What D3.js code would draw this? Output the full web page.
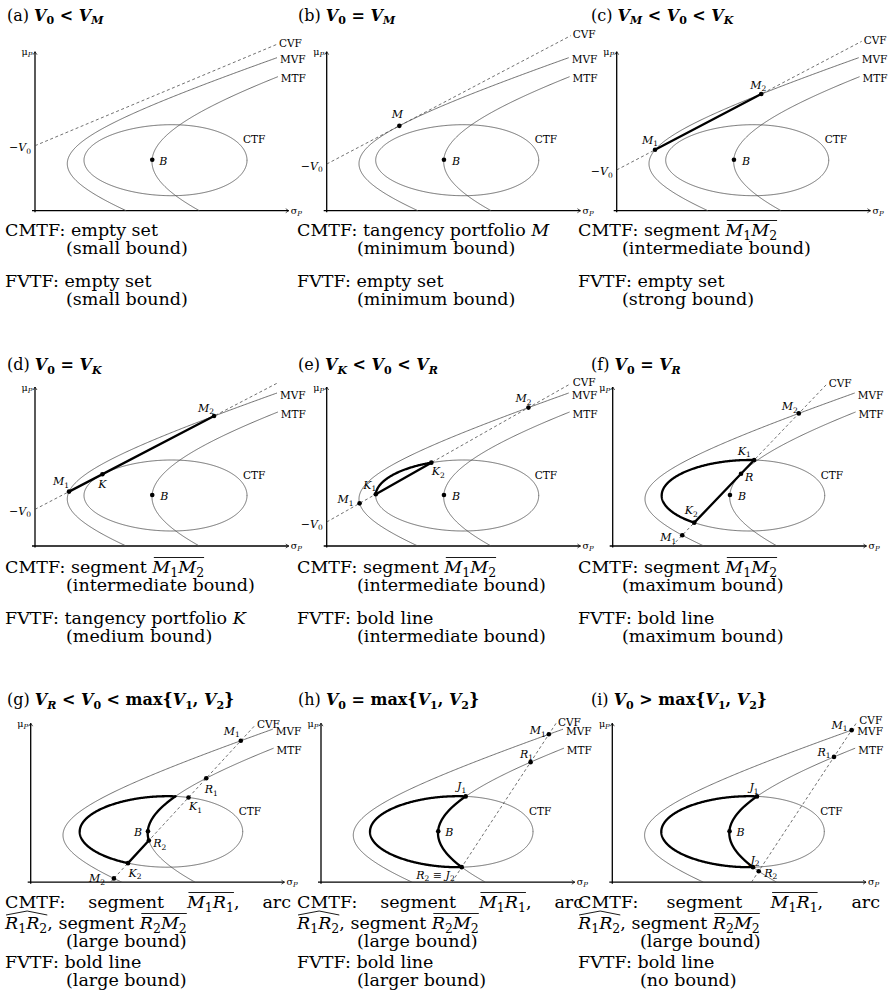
<!DOCTYPE html>
<html>
<head>
<meta charset="utf-8">
<script src="https://cdn.jsdelivr.net/npm/d3@7/dist/d3.min.js"></script>
<style>
  body { margin: 0; background: #fff; }
  text { font-family: "DejaVu Serif", serif; white-space: pre; }
</style>
</head>
<body>
<svg id="fig" width="891" height="1005"></svg>
<script>
// ---- curve geometry, same units on both axes ----
// frontiers: sigma = c + sqrt(a^2 + k (mu - m)^2), drawn from mu = 0 up to "top"
const mvfCurve = { c: -4.576, a: 5.868, k: 9.39, m: 1.88, top: 6.12 };
const mtfCurve = { c: -6.12, a: 10.8, k: 11.6, m: 1.96, top: 5.36 };
// constraint set boundary (egg shaped, pointier on the left)
const ctfCurve = { cx: 5.22, cy: 2.02, rx: 3.26, ry: 1.42, skew: 0.24 };
const pointB = { s: 4.69, m: 2.04 };
const ctfLabelAt = { s: 8.32, m: 2.84 };
const axisEnd = { s: 10.15, m: 6.36 };

// ---- per panel values ----
const panelTags = ["(a)", "(b)", "(c)", "(d)", "(e)", "(f)", "(g)", "(h)", "(i)"];
const panelTitles = [
  "V_0 < V_M", "V_0 = V_M", "V_M < V_0 < V_K",
  "V_0 = V_K", "V_K < V_0 < V_R", "V_0 = V_R",
  "V_R < V_0 < max{V_1, V_2}", "V_0 = max{V_1, V_2}", "V_0 > max{V_1, V_2}"
];
const cvfIntercept = [2.6, 1.96, 1.63, 1.46, 0.96, -2.43, -3.46, -7.87, -8.45];
const cvfSlope = [0.419, 0.526, 0.525, 0.521, 0.567, 1.045, 1.085, 1.525, 1.518];
const cvfEnd = [9.68, 9.76, 9.8, 9.68, 9.76, 8.56, 8.97, 9.4, 9.8];
// how the CVF line meets the frontiers in the limiting cases
const cvfFit = [null, "tanMVF", null, "tanCTF", null, "tanMTF", null, "thruJ2", null];
const cvfLabelShown = [true, true, true, false, true, true, true, true, true];

// marked portfolios: [name, where, which crossing, label]
const panelPoints = [
  [["B", "B"]],
  [["M", "tan"], ["B", "B"]],
  [["M_1", "mvf", 0], ["M_2", "mvf", 1], ["B", "B"]],
  [["M_1", "mvf", 0], ["M_2", "mvf", 1], ["K", "tan"], ["B", "B"]],
  [["M_1", "mvf", 0], ["M_2", "mvf", 1], ["K_1", "ctf", 0], ["K_2", "ctf", 1], ["B", "B"]],
  [["M_1", "mvf", 0], ["M_2", "mvf", 1], ["K_2", "ctf", 0], ["K_1", "ctf", 1], ["R", "tan"], ["B", "B"]],
  [["M_2", "mvf", 0], ["M_1", "mvf", 1], ["K_2", "ctf", 0], ["K_1", "ctf", 1], ["R_2", "mtf", 0], ["R_1", "mtf", 1], ["B", "B"]],
  [["M_1", "mvf", -1], ["R_1", "mtf", -1], ["J_1", "J1"], ["J_2", "J2", null, "R_2 \u2261 J_2"], ["B", "B"]],
  [["M_1", "mvf", -1], ["R_1", "mtf", -1], ["R_2", "mtf", 0], ["J_1", "J1"], ["J_2", "J2"], ["B", "B"]]
];
// bold pieces: seg = straight, arc = CTF boundary (counter-clockwise), mtf = along MTF
const boldPieces = [
  [], [], [["seg", "M_1", "M_2"]],
  [["seg", "M_1", "M_2"]],
  [["seg", "K_1", "K_2"], ["arc", "K_2", "K_1"]],
  [["seg", "K_1", "K_2"], ["arc", "K_1", "K_2"]],
  [["arc", "J_1", "K_2"], ["seg", "K_2", "R_2"], ["mtf", "R_2", "J_1"]],
  [["arc", "J_1", "J_2"], ["mtf", "J_2", "J_1"]],
  [["arc", "J_1", "J_2"], ["mtf", "J_2", "J_1"]]
];
// $..$ math, [..] math with bar, {..} math with hat
const captions = [
  ["CMTF: empty set", "(small bound)", "FVTF: empty set", "(small bound)"],
  ["CMTF: tangency portfolio $M$", "(minimum bound)", "FVTF: empty set", "(minimum bound)"],
  ["CMTF: segment [M_1M_2]", "(intermediate bound)", "FVTF: empty set", "(strong bound)"],
  ["CMTF: segment [M_1M_2]", "(intermediate bound)", "FVTF: tangency portfolio $K$", "(medium bound)"],
  ["CMTF: segment [M_1M_2]", "(intermediate bound)", "FVTF: bold line", "(intermediate bound)"],
  ["CMTF: segment [M_1M_2]", "(maximum bound)", "FVTF: bold line", "(maximum bound)"],
  ["CMTF: segment [M_1R_1], arc", "{R_1R_2}, segment [R_2M_2]", "(large bound)", "FVTF: bold line", "(large bound)"],
  ["CMTF: segment [M_1R_1], arc", "{R_1R_2}, segment [R_2M_2]", "(large bound)", "FVTF: bold line", "(larger bound)"],
  ["CMTF: segment [M_1R_1], arc", "{R_1R_2}, segment [R_2M_2]", "(large bound)", "FVTF: bold line", "(no bound)"]
];

// ---- layout ----
const layout = {
  unit: 25,
  origin: [[35, 210.7], [326.7, 210.7], [616.7, 210.7], [35, 546], [326.7, 546], [612.7, 546],
           [30.7, 882.2], [321, 882.2], [612.3, 882.2]],
  title: [[7, 20.5], [298, 20.5], [591, 20.5], [7, 370], [298, 370], [591, 370], [7, 705], [298, 705], [591, 705]],
  titleSize: 16,
  capSize: 17.5,
  capLeft: [5, 297, 578],
  capRight: [291, 583, 880],
  capIndent: [[66, 357, 622], [66, 357, 622], [66, 357, 640]],
  capTop: [236, 573, 908],
  capSteps: [[0, 18, 51, 69], [0, 18, 51, 69], [0, 21, 38.5, 60, 78]],
  capIndented: [[1, 3], [1, 3], [2, 4]],
  capJustified: [[], [], [0]],
  labelOffset: [
    { B: [11, 1] },
    { M: [-2, -12], B: [12, 1] },
    { M_1: [-5, -10], M_2: [-3, -9], B: [12, 1] },
    { M_1: [-8, -10], M_2: [-8, -8], K: [0, 10], B: [12, 1] },
    { M_1: [-14, -4], M_2: [-5, -9], K_1: [-6, -9], K_2: [7, 9], B: [12, 1] },
    { M_1: [-14, 2], M_2: [-9, -7], K_1: [-10, -9], K_2: [-3, -12], R: [8, 3], B: [12, 1] },
    { M_1: [-9, -10], M_2: [-17, 0], K_1: [7, 9], K_2: [7, 10], R_1: [5, 11], R_2: [11, 3], B: [-10, 1] },
    { M_1: [-11, -4], R_1: [-4, -8], J_1: [-4, -10], J_2: [-7, 8, "end"], B: [11, 1] },
    { M_1: [-12, -5], R_1: [-10, -5], R_2: [12, 2], J_1: [-3, -9], J_2: [2, -7], B: [11, 1] }
  ]
};

const svg = d3.select("#fig");
svg.append("rect").attr("width", 891).attr("height", 1005).attr("fill", "#fff");

// ---- geometry helpers ----
function frontierSigma(h, mu) {
  const u = mu - h.m;
  return h.c + Math.sqrt(h.a * h.a + h.k * u * u);
}
function ctfPoint(t) {
  const c = ctfCurve, st = Math.sin(t);
  return { s: c.cx + c.rx * Math.cos(t) + c.skew * st * st, m: c.cy + c.ry * st, t: t };
}
function crossings(fn, lo, hi, n) {
  const out = [];
  let xp = lo, vp = fn(lo);
  for (let j = 1; j <= n; j++) {
    const xv = lo + (hi - lo) * j / n, v = fn(xv);
    if (vp * v < 0) out.push(xp + (xv - xp) * vp / (vp - v));
    xp = xv; vp = v;
  }
  return out;
}
function lineFrontier(h, b, s) {
  return crossings(mu => mu - b - s * frontierSigma(h, mu), 0, 6.6, 6000)
    .map(mu => ({ s: frontierSigma(h, mu), m: mu }));
}
function lineCtf(b, s) {
  return crossings(t => { const p = ctfPoint(t); return p.m - b - s * p.s; }, 0, 2 * Math.PI, 6000)
    .map(ctfPoint).sort((p, q) => p.m - q.m);
}
function ctfMtf() {
  return crossings(t => { const p = ctfPoint(t); return p.s - frontierSigma(mtfCurve, p.m); }, 0, 2 * Math.PI, 6000)
    .map(ctfPoint).sort((p, q) => p.m - q.m);
}
function tangentFrontier(h, s) {
  let best = null;
  d3.range(0, 6.6, 0.0005).forEach(mu => {
    const sg = frontierSigma(h, mu), v = mu - s * sg;
    if (!best || v > best.b) best = { b: v, p: { s: sg, m: mu } };
  });
  return best;
}
function tangentCtf(s) {
  let best = null;
  d3.range(0, 2 * Math.PI, 0.0005).forEach(t => {
    const p = ctfPoint(t), v = p.m - s * p.s;
    if (!best || v > best.b) best = { b: v, p: p };
  });
  return best;
}

// ---- text helpers ----
function addMath(sel, str, o) {
  let i = 0, lowered = false;
  while (i < str.length) {
    let piece, sub = false;
    if (str.startsWith("max", i)) { piece = "max"; i += 3; }
    else if (str[i] === "_") { piece = str[i + 1]; sub = true; i += 2; }
    else { piece = str[i]; i += 1; }
    const ts = sel.append("tspan").text(piece)
      .attr("font-style", /^[A-Za-z]$/.test(piece) ? "italic" : "normal");
    if (o.bold) ts.attr("font-weight", "bold");
    if (sub) {
      ts.attr("font-size", o.sub);
      if (!lowered) { ts.attr("dy", o.drop); lowered = true; }
    } else if (lowered) { ts.attr("dy", -o.drop); lowered = false; }
  }
}

function drawCaptionLine(g, str, x0, yb, justifyWidth) {
  const size = layout.capSize;
  const words = str.split(" ").map(w => w.split(/(\$[^$]+\$|\[[^\]]+\]|\{[^}]+\})/).filter(p => p.length));
  const items = words.map(parts => {
    const wg = g.append("g");
    let w = 0;
    parts.forEach(p => {
      const t = wg.append("text").attr("x", w).attr("y", yb).attr("font-size", size);
      const deco = p[0] === "[" ? "bar" : p[0] === "{" ? "hat" : null;
      if (p[0] === "$" || deco) addMath(t, p.slice(1, -1), { sub: 12.5, drop: 4 });
      else t.text(p);
      const pw = t.node().getComputedTextLength();
      if (deco === "bar") {
        wg.append("line").attr("x1", w + 1.5).attr("x2", w + pw).attr("y1", yb - 15.5).attr("y2", yb - 15.5)
          .attr("stroke", "#000").attr("stroke-width", 0.9);
      } else if (deco === "hat") {
        wg.append("path").attr("d", `M${w + 1},${yb - 14}L${w + pw / 2 + 1},${yb - 18}L${w + pw},${yb - 14}`)
          .attr("fill", "none").attr("stroke", "#000").attr("stroke-width", 0.9);
      }
      w += pw;
    });
    return { wg, w };
  });
  const probe = g.append("text").attr("font-size", size).text("a a");
  const probe2 = g.append("text").attr("font-size", size).text("aa");
  const space = probe.node().getComputedTextLength() - probe2.node().getComputedTextLength();
  probe.remove(); probe2.remove();
  const total = d3.sum(items, d => d.w);
  const gap = justifyWidth ? (justifyWidth - total) / (items.length - 1) : space;
  let cx = x0;
  items.forEach(it => { it.wg.attr("transform", `translate(${cx},0)`); cx += it.w + gap; });
}

// ---- panels ----
const ink = "#4d4d4d";
const J = ctfMtf();           // [lower, upper] crossing of CTF and MTF

panelTags.forEach((tag, i) => {
  const [ox, oy] = layout.origin[i];
  const x = d3.scaleLinear().domain([0, 10]).range([ox, ox + 10 * layout.unit]);
  const y = d3.scaleLinear().domain([0, 10]).range([oy, oy - 10 * layout.unit]);
  const g = svg.append("g");
  const path = d3.line().x(d => x(d.s)).y(d => y(d.m));

  // CVF line
  const s = cvfSlope[i];
  let b = cvfIntercept[i], tanPt = null;
  if (cvfFit[i] === "tanMVF") { const r = tangentFrontier(mvfCurve, s); b = r.b; tanPt = r.p; }
  if (cvfFit[i] === "tanMTF") { const r = tangentFrontier(mtfCurve, s); b = r.b; tanPt = r.p; }
  if (cvfFit[i] === "tanCTF") { const r = tangentCtf(s); b = r.b; tanPt = r.p; }
  if (cvfFit[i] === "thruJ2") b = J[0].m - s * J[0].s;

  // title
  const [tx, ty] = layout.title[i];
  const tt = g.append("text").attr("x", tx).attr("y", ty).attr("font-size", layout.titleSize);
  tt.append("tspan").text(tag + " ");
  addMath(tt, panelTitles[i], { sub: 11, drop: 3.5, bold: true });

  // axes
  g.append("line").attr("x1", x(-0.12)).attr("x2", x(axisEnd.s)).attr("y1", y(0)).attr("y2", y(0))
    .attr("stroke", "#000").attr("stroke-width", 1.3);
  g.append("line").attr("x1", x(0)).attr("x2", x(0)).attr("y1", y(-0.06)).attr("y2", y(axisEnd.m))
    .attr("stroke", "#000").attr("stroke-width", 1.3);
  g.append("path")
    .attr("d", `M${x(axisEnd.s) - 3},${y(0) - 2}L${x(axisEnd.s)},${y(0)}L${x(axisEnd.s) - 3},${y(0) + 2}`)
    .attr("fill", "none").attr("stroke", "#000").attr("stroke-width", 0.7);
  g.append("path")
    .attr("d", `M${x(0) - 2},${y(axisEnd.m) + 3}L${x(0)},${y(axisEnd.m)}L${x(0) + 2},${y(axisEnd.m) + 3}`)
    .attr("fill", "none").attr("stroke", "#000").attr("stroke-width", 0.7);
  const mu = g.append("text").attr("x", x(0) - 2.5).attr("y", y(axisEnd.m) + 3.5)
    .attr("text-anchor", "end").attr("font-size", 9.5);
  addMath(mu, "\u03bc_P", { sub: 7, drop: 2 });
  const sg = g.append("text").attr("x", x(axisEnd.s) + 2).attr("y", y(0) + 3)
    .attr("font-size", 9.5);
  addMath(sg, "\u03c3_P", { sub: 7, drop: 2 });

  // frontiers and constraint set
  [mvfCurve, mtfCurve].forEach(h => {
    g.append("path").attr("d", path(d3.range(0, h.top + 1e-9, h.top / 300).map(m => ({ s: frontierSigma(h, m), m: m }))))
      .attr("fill", "none").attr("stroke", ink).attr("stroke-width", 0.8);
  });
  g.append("path").attr("d", path(d3.range(0, 2 * Math.PI + 0.01, 0.01).map(ctfPoint)) + "Z")
    .attr("fill", "none").attr("stroke", ink).attr("stroke-width", 0.8);

  const s0 = b >= 0 ? 0 : -b / s;
  g.append("line").attr("x1", x(s0)).attr("y1", y(b + s * s0)).attr("x2", x(cvfEnd[i])).attr("y2", y(b + s * cvfEnd[i]))
    .attr("stroke", ink).attr("stroke-width", 0.8).attr("stroke-dasharray", "3,2.5");

  // curve labels
  const lab = (txt, px, py, anchor) => g.append("text").attr("x", px).attr("y", py).attr("font-size", 10.5)
    .attr("text-anchor", anchor || "start").text(txt);
  if (cvfLabelShown[i]) lab("CVF", x(cvfEnd[i]) + 2, y(b + s * cvfEnd[i]) + 2.5);
  lab("MVF", x(frontierSigma(mvfCurve, mvfCurve.top)) + 3, y(mvfCurve.top) + 5.5);
  lab("MTF", x(frontierSigma(mtfCurve, mtfCurve.top)) + 3, y(mtfCurve.top) + 5.5);
  lab("CTF", x(ctfLabelAt.s), y(ctfLabelAt.m) + 3.7);
  if (b >= 0) {
    const v = g.append("text").attr("x", x(0) - 4).attr("y", y(b) + 5.5)
      .attr("text-anchor", "end").attr("font-size", 11);
    addMath(v, "\u2212V_0", { sub: 7.5, drop: 2.5 });
  }

  // marked points
  const cross = {
    mvf: lineFrontier(mvfCurve, b, s),
    mtf: lineFrontier(mtfCurve, b, s),
    ctf: lineCtf(b, s)
  };
  const pts = { J_1: J[1], J_2: J[0] };
  panelPoints[i].forEach(([name, where, k]) => {
    let p;
    if (where === "B") p = pointB;
    else if (where === "tan") p = tanPt;
    else if (where === "J1") p = J[1];
    else if (where === "J2") p = J[0];
    else { const list = cross[where]; p = list[k < 0 ? list.length + k : k]; }
    pts[name] = p;
  });

  // bold pieces
  boldPieces[i].forEach(([kind, a, c]) => {
    const p = pts[a], q = pts[c];
    let d;
    if (kind === "seg") d = [p, q];
    else if (kind === "arc") {
      let t2 = q.t;
      if (t2 < p.t) t2 += 2 * Math.PI;
      d = d3.range(p.t, t2, 0.01).map(ctfPoint).concat([q]);
    } else {
      const lo = Math.min(p.m, q.m), hi = Math.max(p.m, q.m);
      d = d3.range(lo, hi, 0.005).map(m => ({ s: frontierSigma(mtfCurve, m), m: m })).concat([{ s: frontierSigma(mtfCurve, hi), m: hi }]);
    }
    g.append("path").attr("d", path(d)).attr("fill", "none").attr("stroke", "#000")
      .attr("stroke-width", 2.3).attr("stroke-linejoin", "round").attr("stroke-linecap", "round");
  });

  // dots and labels
  panelPoints[i].forEach(([name, where, k, label]) => {
    const p = pts[name];
    g.append("circle").attr("cx", x(p.s)).attr("cy", y(p.m)).attr("r", 2.3).attr("fill", "#000");
    const off = layout.labelOffset[i][name] || [10, 0];
    const t = g.append("text").attr("x", x(p.s) + off[0]).attr("y", y(p.m) + off[1] + 3.8)
      .attr("font-size", 11).attr("text-anchor", off[2] || "middle");
    addMath(t, label || name, { sub: 7.5, drop: 2.5 });
  });

  // caption
  const row = Math.floor(i / 3), col = i % 3;
  captions[i].forEach((line, li) => {
    const yb = layout.capTop[row] + layout.capSteps[row][li];
    const indented = layout.capIndented[row].includes(li);
    const x0 = indented ? layout.capIndent[row][col] : layout.capLeft[col];
    const just = layout.capJustified[row].includes(li) ? layout.capRight[col] - layout.capLeft[col] : null;
    drawCaptionLine(g, line, x0, yb, just);
  });
});
</script>
</body>
</html>
